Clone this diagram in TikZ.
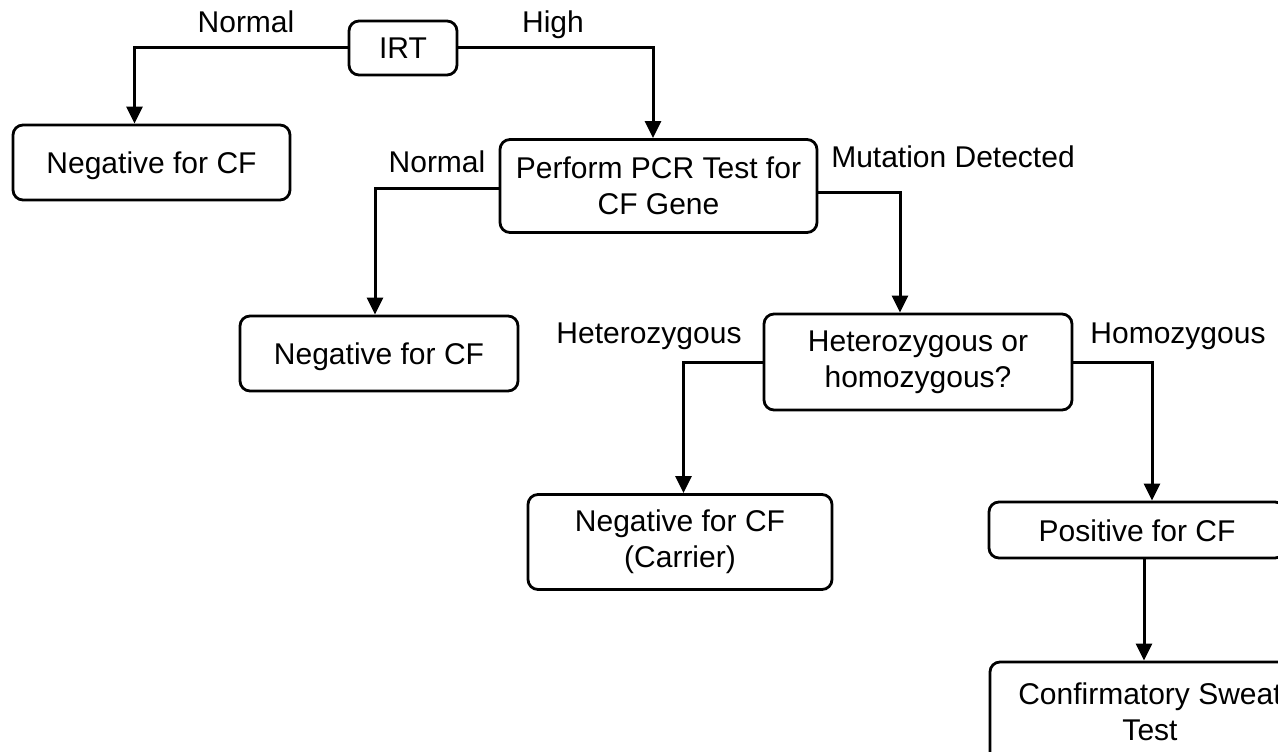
\documentclass[tikz,border=0pt]{standalone}
\usepackage{fontspec}
\setmainfont{Liberation Sans}
\usetikzlibrary{arrows.meta}
\begin{document}
\begin{tikzpicture}[x=1pt,y=-1pt,
  box/.style={draw=black, line width=2.8pt, rounded corners=10pt, fill=white,
    font=\fontsize{30}{36}\selectfont, align=center, inner sep=0pt},
  onebox/.style={box, text height=22pt, text depth=0pt},
  lbl/.style={font=\fontsize{30}{36}\selectfont, anchor=base, inner sep=0pt},
  arr/.style={line width=3pt, -{Triangle[length=17pt,width=16pt]}}]
\path[use as bounding box] (0,0) rectangle (1278,752);
\clip (0,0) rectangle (1278,752);
% nodes
\node[onebox, minimum width=108pt, minimum height=54pt] (irt) at (403,48) {IRT};
\node[onebox, minimum width=277pt, minimum height=75pt] (neg1) at (151.5,162.5) {Negative for CF};
\node[box, minimum width=317pt, minimum height=93pt] (pcr) at (658.5,186) {Perform PCR Test for\\CF Gene};
\node[onebox, minimum width=278pt, minimum height=75pt] (neg2) at (379,353.5) {Negative for CF};
\node[box, minimum width=308pt, minimum height=96pt] (het) at (918,362) {Heterozygous or\\homozygous?};
\node[box, minimum width=304pt, minimum height=95pt] (car) at (680,542) {Negative for CF\\(Carrier)};
\node[onebox, minimum width=296pt, minimum height=56pt] (pos) at (1137,530) {Positive for CF};
\node[box, minimum width=320pt, minimum height=100pt] (conf) at (1150,712) {Confirmatory Sweat\\Test};
% labels
\node[lbl] (l1) at (246,33) {Normal};
\node[lbl] (l2) at (553,33) {High};
\node[lbl] (l3) at (437,172) {Normal};
\node[lbl] (l4) at (953,167) {Mutation Detected};
\node[lbl] (l5) at (649,343) {Heterozygous};
\node[lbl] (l6) at (1178,343) {Homozygous};
% connectors
\draw[arr] (irt.west) -| ([xshift=-17pt]neg1.north);
\draw[arr] (irt.east) -| ([xshift=-5.5pt]pcr.north);
\draw[arr] ([yshift=-2pt]pcr.west) -| ([xshift=-4pt]neg2.north);
\draw[arr] ([yshift=-6pt]pcr.east) -| ([xshift=-18pt]het.north);
\draw[arr] (het.west) -| ([xshift=3.5pt]car.north);
\draw[arr] (het.east) -| ([xshift=15pt]pos.north);
\draw[arr] ([xshift=7pt]pos.south) -- ([xshift=-6pt]conf.north);
\end{tikzpicture}
\end{document}
